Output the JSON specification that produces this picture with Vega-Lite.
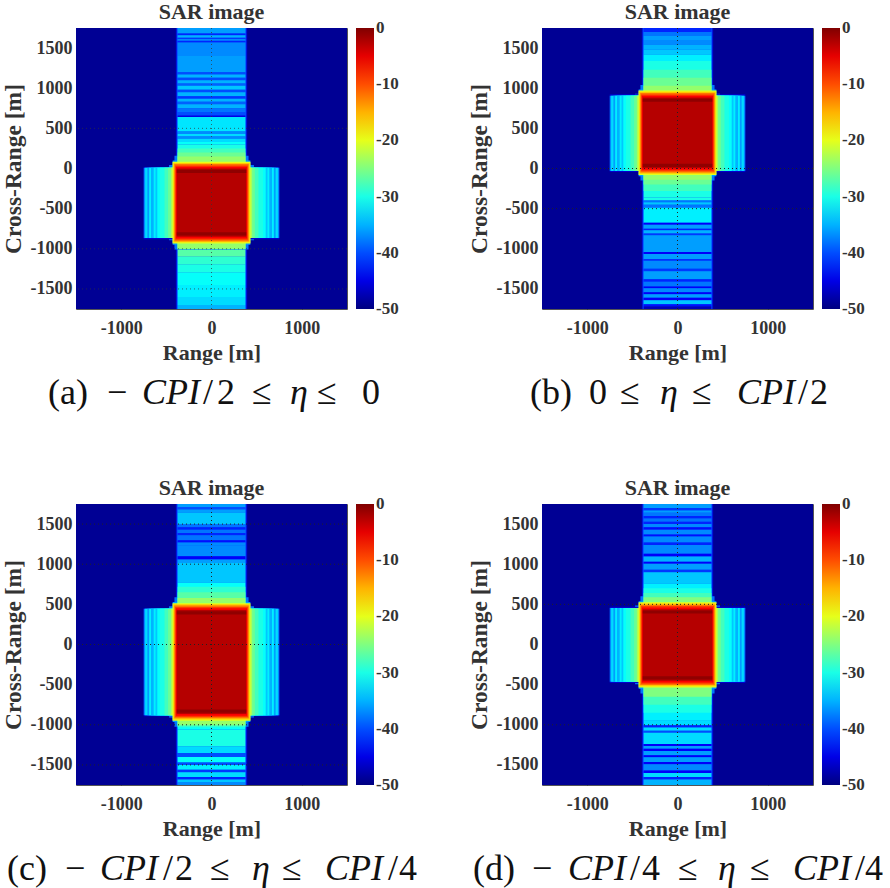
{
"$schema":"https://vega.github.io/schema/vega-lite/v6.json",
"background":"white",
"padding":0,
"bounds":"flush",
"columns":2,
"spacing":{"row":55,"column":195},
"resolve":{"scale":{"color":"independent"},"legend":{"color":"independent"}},
"config":{
"font":"Liberation Serif",
"axis":{"labelFont":"Liberation Serif","labelFontWeight":"bold","labelFontSize":18,"labelColor":"#333","titleFont":"Liberation Serif","titleFontWeight":"bold","titleColor":"#333","grid":false,"domain":false,"tickColor":"#333","tickSize":-4},
"title":{"font":"Liberation Serif","fontWeight":"bold","fontSize":22,"color":"#333","offset":4},
"view":{"stroke":"#555"},
"legend":{"labelFont":"Liberation Serif","labelFontWeight":"bold","labelFontSize":17,"labelColor":"#333","gradientStrokeColor":"#666"}
},
"concat":[
{"title":"SAR image","width":271,"height":281,"layer":[
{"data":{"values":[
{"x0":-1500,"x1":1500,"y0":-1750,"y1":1750,"v":-49},
{"x0":-395,"x1":395,"y0":-1750,"y1":1750,"v":-46},
{"x0":-385,"x1":385,"y0":-1750,"y1":1750,"v":-40},
{"x0":-375,"x1":375,"y0":1680,"y1":1750,"v":-36},
{"x0":-375,"x1":375,"y0":1660,"y1":1680,"v":-42},
{"x0":-375,"x1":375,"y0":1630,"y1":1660,"v":-35},
{"x0":-375,"x1":375,"y0":1610,"y1":1630,"v":-41},
{"x0":-375,"x1":375,"y0":1590,"y1":1610,"v":-36},
{"x0":-375,"x1":375,"y0":1570,"y1":1590,"v":-42},
{"x0":-375,"x1":375,"y0":1400,"y1":1570,"v":-37},
{"x0":-375,"x1":375,"y0":1200,"y1":1400,"v":-36},
{"x0":-375,"x1":375,"y0":1170,"y1":1200,"v":-40},
{"x0":-375,"x1":375,"y0":1130,"y1":1170,"v":-35},
{"x0":-375,"x1":375,"y0":1100,"y1":1130,"v":-40},
{"x0":-375,"x1":375,"y0":1060,"y1":1100,"v":-35},
{"x0":-375,"x1":375,"y0":1030,"y1":1060,"v":-39},
{"x0":-375,"x1":375,"y0":980,"y1":1030,"v":-34},
{"x0":-375,"x1":375,"y0":950,"y1":980,"v":-40},
{"x0":-375,"x1":375,"y0":900,"y1":950,"v":-35},
{"x0":-375,"x1":375,"y0":870,"y1":900,"v":-41},
{"x0":-375,"x1":375,"y0":830,"y1":870,"v":-35},
{"x0":-375,"x1":375,"y0":800,"y1":830,"v":-39},
{"x0":-375,"x1":375,"y0":750,"y1":800,"v":-35},
{"x0":-375,"x1":375,"y0":700,"y1":750,"v":-38},
{"x0":-375,"x1":375,"y0":660,"y1":700,"v":-40},
{"x0":-375,"x1":375,"y0":640,"y1":660,"v":-45},
{"x0":-375,"x1":375,"y0":460,"y1":640,"v":-32.5},
{"x0":-375,"x1":375,"y0":430,"y1":460,"v":-37},
{"x0":-375,"x1":375,"y0":400,"y1":430,"v":-33},
{"x0":-375,"x1":375,"y0":370,"y1":400,"v":-37},
{"x0":-375,"x1":375,"y0":330,"y1":370,"v":-33},
{"x0":-375,"x1":375,"y0":300,"y1":330,"v":-31},
{"x0":-375,"x1":375,"y0":-1100,"y1":-1000,"v":-27},
{"x0":-375,"x1":375,"y0":-1200,"y1":-1100,"v":-29},
{"x0":-375,"x1":375,"y0":-1300,"y1":-1200,"v":-30},
{"x0":-375,"x1":375,"y0":-1450,"y1":-1300,"v":-31},
{"x0":-375,"x1":375,"y0":-1600,"y1":-1450,"v":-32},
{"x0":-375,"x1":375,"y0":-1700,"y1":-1600,"v":-33},
{"x0":-375,"x1":375,"y0":-1750,"y1":-1700,"v":-35},
{"x0":-410,"x1":410,"y0":-1010,"y1":160,"v":-38},
{"x0":-430,"x1":430,"y0":-950,"y1":100,"v":-36},
{"x0":-470,"x1":470,"y0":-895,"y1":45,"v":-38},
{"x0":-750,"x1":750,"y0":-880,"y1":20,"v":-46},
{"x0":-750,"x1":750,"y0":-865,"y1":10,"v":-37},
{"x0":-735,"x1":735,"y0":-865,"y1":10,"v":-33},
{"x0":-710,"x1":710,"y0":-865,"y1":10,"v":-36},
{"x0":-690,"x1":690,"y0":-865,"y1":10,"v":-32},
{"x0":-670,"x1":670,"y0":-865,"y1":10,"v":-35},
{"x0":-640,"x1":640,"y0":-865,"y1":10,"v":-32},
{"x0":-620,"x1":620,"y0":-865,"y1":10,"v":-34},
{"x0":-600,"x1":600,"y0":-865,"y1":10,"v":-31},
{"x0":-570,"x1":570,"y0":-865,"y1":10,"v":-30},
{"x0":-520,"x1":520,"y0":-865,"y1":10,"v":-28},
{"x0":-480,"x1":480,"y0":-865,"y1":10,"v":-26},
{"x0":-450,"x1":450,"y0":-865,"y1":10,"v":-23},
{"x0":-375,"x1":375,"y0":-1000,"y1":300,"v":-30},
{"x0":-375,"x1":375,"y0":-1000,"y1":250,"v":-28},
{"x0":-375,"x1":375,"y0":-1000,"y1":200,"v":-26},
{"x0":-375,"x1":375,"y0":-1000,"y1":150,"v":-24},
{"x0":-432,"x1":432,"y0":-935,"y1":85,"v":-20},
{"x0":-422,"x1":422,"y0":-920,"y1":70,"v":-16},
{"x0":-412,"x1":412,"y0":-905,"y1":55,"v":-12},
{"x0":-402,"x1":402,"y0":-888,"y1":38,"v":-9},
{"x0":-394,"x1":394,"y0":-872,"y1":22,"v":-6},
{"x0":-385,"x1":385,"y0":-850,"y1":0,"v":-2.6},
{"x0":-385,"x1":385,"y0":-55,"y1":-15,"v":-0.8},
{"x0":-385,"x1":385,"y0":-835,"y1":-795,"v":-0.8}
]},
"mark":"rect",
"encoding":{
"x":{"field":"x0","type":"quantitative","title":"Range [m]","scale":{"domain":[-1500,1500],"nice":false},"axis":{"values":[-1000,0,1000],"labelExpr":"''+datum.value","labelPadding":14,"titleFontSize":22,"titlePadding":5}},
"x2":{"field":"x1"},
"y":{"field":"y0","type":"quantitative","title":"Cross-Range [m]","scale":{"domain":[-1750,1750],"nice":false},"axis":{"values":[-1500,-1000,-500,0,500,1000,1500],"labelExpr":"''+datum.value","labelPadding":8,"titleFontSize":23.5,"titlePadding":5}},
"y2":{"field":"y1"},
"color":{"field":"v","type":"quantitative","scale":{"domain":[-50,-43.75,-31.25,-18.75,-6.25,0],"range":["#000080","#0000ff","#00ffff","#ffff00","#ff0000","#800000"],"interpolate":"rgb"},"legend":{"title":null,"orient":"right","gradientLength":281,"gradientThickness":18,"offset":9,"values":[-49.99,-40,-30,-20,-10,-0.01],"labelExpr":"''+round(datum.value)"}}
}},
{"data":{"values":[{"g":500},{"g":-1000},{"g":-1500}]},"mark":{"type":"rule","strokeDash":[1,3],"color":"#333","opacity":0.7},"encoding":{"y":{"field":"g","type":"quantitative"}}},
{"data":{"values":[{"g":0}]},"mark":{"type":"rule","strokeDash":[1,3],"color":"#333","opacity":0.7},"encoding":{"x":{"field":"g","type":"quantitative"}}}
]},
{"title":"SAR image","width":271,"height":281,"layer":[
{"data":{"values":[
{"x0":-1500,"x1":1500,"y0":-1750,"y1":1750,"v":-49},
{"x0":-395,"x1":395,"y0":-1750,"y1":1750,"v":-46},
{"x0":-385,"x1":385,"y0":-1750,"y1":1750,"v":-40},
{"x0":-375,"x1":375,"y0":1700,"y1":1750,"v":-42},
{"x0":-375,"x1":375,"y0":1650,"y1":1700,"v":-38},
{"x0":-375,"x1":375,"y0":1600,"y1":1650,"v":-36},
{"x0":-375,"x1":375,"y0":1540,"y1":1600,"v":-37},
{"x0":-375,"x1":375,"y0":1480,"y1":1540,"v":-35},
{"x0":-375,"x1":375,"y0":1420,"y1":1480,"v":-34},
{"x0":-375,"x1":375,"y0":1340,"y1":1420,"v":-32},
{"x0":-375,"x1":375,"y0":-400,"y1":-360,"v":-30},
{"x0":-375,"x1":375,"y0":-420,"y1":-400,"v":-38},
{"x0":-375,"x1":375,"y0":-450,"y1":-420,"v":-34},
{"x0":-375,"x1":375,"y0":-490,"y1":-450,"v":-38},
{"x0":-375,"x1":375,"y0":-675,"y1":-490,"v":-32},
{"x0":-375,"x1":375,"y0":-700,"y1":-675,"v":-44},
{"x0":-375,"x1":375,"y0":-750,"y1":-700,"v":-36},
{"x0":-375,"x1":375,"y0":-770,"y1":-750,"v":-42},
{"x0":-375,"x1":375,"y0":-810,"y1":-770,"v":-35},
{"x0":-375,"x1":375,"y0":-830,"y1":-810,"v":-41},
{"x0":-375,"x1":375,"y0":-1040,"y1":-830,"v":-36},
{"x0":-375,"x1":375,"y0":-1065,"y1":-1040,"v":-44},
{"x0":-375,"x1":375,"y0":-1130,"y1":-1065,"v":-36},
{"x0":-375,"x1":375,"y0":-1150,"y1":-1130,"v":-42},
{"x0":-375,"x1":375,"y0":-1250,"y1":-1150,"v":-37},
{"x0":-375,"x1":375,"y0":-1280,"y1":-1250,"v":-41},
{"x0":-375,"x1":375,"y0":-1380,"y1":-1280,"v":-36},
{"x0":-375,"x1":375,"y0":-1410,"y1":-1380,"v":-42},
{"x0":-375,"x1":375,"y0":-1470,"y1":-1410,"v":-38},
{"x0":-375,"x1":375,"y0":-1490,"y1":-1470,"v":-44},
{"x0":-375,"x1":375,"y0":-1540,"y1":-1490,"v":-37},
{"x0":-375,"x1":375,"y0":-1565,"y1":-1540,"v":-44},
{"x0":-375,"x1":375,"y0":-1610,"y1":-1565,"v":-36},
{"x0":-375,"x1":375,"y0":-1640,"y1":-1610,"v":-44},
{"x0":-375,"x1":375,"y0":-1690,"y1":-1640,"v":-34},
{"x0":-375,"x1":375,"y0":-1715,"y1":-1690,"v":-43},
{"x0":-375,"x1":375,"y0":-1750,"y1":-1715,"v":-47},
{"x0":-410,"x1":410,"y0":-150,"y1":1040,"v":-38},
{"x0":-430,"x1":430,"y0":-95,"y1":985,"v":-36},
{"x0":-470,"x1":470,"y0":-40,"y1":930,"v":-38},
{"x0":-750,"x1":750,"y0":-45,"y1":925,"v":-46},
{"x0":-750,"x1":750,"y0":-30,"y1":905,"v":-37},
{"x0":-735,"x1":735,"y0":-30,"y1":905,"v":-33},
{"x0":-710,"x1":710,"y0":-30,"y1":905,"v":-36},
{"x0":-690,"x1":690,"y0":-30,"y1":905,"v":-32},
{"x0":-670,"x1":670,"y0":-30,"y1":905,"v":-35},
{"x0":-640,"x1":640,"y0":-30,"y1":905,"v":-32},
{"x0":-620,"x1":620,"y0":-30,"y1":905,"v":-34},
{"x0":-600,"x1":600,"y0":-30,"y1":905,"v":-31},
{"x0":-570,"x1":570,"y0":-30,"y1":905,"v":-30},
{"x0":-520,"x1":520,"y0":-30,"y1":905,"v":-28},
{"x0":-480,"x1":480,"y0":-30,"y1":905,"v":-26},
{"x0":-450,"x1":450,"y0":-30,"y1":905,"v":-23},
{"x0":-375,"x1":375,"y0":-360,"y1":1340,"v":-30},
{"x0":-375,"x1":375,"y0":-280,"y1":1230,"v":-28},
{"x0":-375,"x1":375,"y0":-200,"y1":1130,"v":-26},
{"x0":-375,"x1":375,"y0":-140,"y1":1030,"v":-24},
{"x0":-432,"x1":432,"y0":-80,"y1":970,"v":-20},
{"x0":-422,"x1":422,"y0":-65,"y1":955,"v":-16},
{"x0":-412,"x1":412,"y0":-50,"y1":940,"v":-12},
{"x0":-402,"x1":402,"y0":-33,"y1":923,"v":-9},
{"x0":-394,"x1":394,"y0":-17,"y1":907,"v":-6},
{"x0":-385,"x1":385,"y0":5,"y1":885,"v":-2.6},
{"x0":-385,"x1":385,"y0":830,"y1":870,"v":-0.8},
{"x0":-385,"x1":385,"y0":20,"y1":60,"v":-0.8}
]},
"mark":"rect",
"encoding":{
"x":{"field":"x0","type":"quantitative","title":"Range [m]","scale":{"domain":[-1500,1500],"nice":false},"axis":{"values":[-1000,0,1000],"labelExpr":"''+datum.value","labelPadding":14,"titleFontSize":22,"titlePadding":5}},
"x2":{"field":"x1"},
"y":{"field":"y0","type":"quantitative","title":"Cross-Range [m]","scale":{"domain":[-1750,1750],"nice":false},"axis":{"values":[-1500,-1000,-500,0,500,1000,1500],"labelExpr":"''+datum.value","labelPadding":8,"titleFontSize":23.5,"titlePadding":5}},
"y2":{"field":"y1"},
"color":{"field":"v","type":"quantitative","scale":{"domain":[-50,-43.75,-31.25,-18.75,-6.25,0],"range":["#000080","#0000ff","#00ffff","#ffff00","#ff0000","#800000"],"interpolate":"rgb"},"legend":{"title":null,"orient":"right","gradientLength":281,"gradientThickness":18,"offset":9,"values":[-49.99,-40,-30,-20,-10,-0.01],"labelExpr":"''+round(datum.value)"}}
}},
{"data":{"values":[{"g":0},{"g":-500}]},"mark":{"type":"rule","strokeDash":[1,3],"color":"#222"},"encoding":{"y":{"field":"g","type":"quantitative"}}},
{"data":{"values":[{"g":0}]},"mark":{"type":"rule","strokeDash":[1,3],"color":"#222"},"encoding":{"x":{"field":"g","type":"quantitative"}}}
]},
{"width":271,"height":85,"view":{"stroke":null},"layer":[
{"data":{"values":[{"x":-28,"t":"(a)"},{"x":31,"t":"−"},{"x":127,"t":"/"},{"x":141,"t":"2"},{"x":176,"t":"≤"},{"x":241,"t":"≤"},{"x":286,"t":"0"}]},"mark":{"type":"text","align":"left","baseline":"middle","font":"Liberation Serif","fontSize":36,"color":"#111"},"encoding":{"x":{"field":"x","type":"quantitative","axis":null,"scale":{"domain":[0,271]}},"y":{"datum":29,"type":"quantitative","axis":null,"scale":{"domain":[85,0]}},"text":{"field":"t"}}},
{"data":{"values":[{"x":66,"t":"CPI"},{"x":214,"t":"η"}]},"mark":{"type":"text","align":"left","baseline":"middle","font":"Liberation Serif","fontStyle":"italic","fontSize":36,"color":"#111"},"encoding":{"x":{"field":"x","type":"quantitative","axis":null,"scale":{"domain":[0,271]}},"y":{"datum":29,"type":"quantitative","axis":null,"scale":{"domain":[85,0]}},"text":{"field":"t"}}}
]},
{"width":271,"height":85,"view":{"stroke":null},"layer":[
{"data":{"values":[{"x":-12,"t":"(b)"},{"x":47,"t":"0"},{"x":78,"t":"≤"},{"x":150,"t":"≤"},{"x":256,"t":"/"},{"x":268,"t":"2"}]},"mark":{"type":"text","align":"left","baseline":"middle","font":"Liberation Serif","fontSize":36,"color":"#111"},"encoding":{"x":{"field":"x","type":"quantitative","axis":null,"scale":{"domain":[0,271]}},"y":{"datum":29,"type":"quantitative","axis":null,"scale":{"domain":[85,0]}},"text":{"field":"t"}}},
{"data":{"values":[{"x":118,"t":"η"},{"x":195,"t":"CPI"}]},"mark":{"type":"text","align":"left","baseline":"middle","font":"Liberation Serif","fontStyle":"italic","fontSize":36,"color":"#111"},"encoding":{"x":{"field":"x","type":"quantitative","axis":null,"scale":{"domain":[0,271]}},"y":{"datum":29,"type":"quantitative","axis":null,"scale":{"domain":[85,0]}},"text":{"field":"t"}}}
]},
{"title":"SAR image","width":271,"height":281,"layer":[
{"data":{"values":[
{"x0":-1500,"x1":1500,"y0":-1750,"y1":1750,"v":-49},
{"x0":-395,"x1":395,"y0":-1750,"y1":1750,"v":-46},
{"x0":-385,"x1":385,"y0":-1750,"y1":1750,"v":-40},
{"x0":-375,"x1":375,"y0":1710,"y1":1750,"v":-36},
{"x0":-375,"x1":375,"y0":1680,"y1":1710,"v":-40},
{"x0":-375,"x1":375,"y0":1640,"y1":1680,"v":-36},
{"x0":-375,"x1":375,"y0":1500,"y1":1640,"v":-34},
{"x0":-375,"x1":375,"y0":1460,"y1":1500,"v":-38},
{"x0":-375,"x1":375,"y0":1430,"y1":1460,"v":-42},
{"x0":-375,"x1":375,"y0":1390,"y1":1430,"v":-38},
{"x0":-375,"x1":375,"y0":1360,"y1":1390,"v":-42},
{"x0":-375,"x1":375,"y0":1300,"y1":1360,"v":-38},
{"x0":-375,"x1":375,"y0":1270,"y1":1300,"v":-43},
{"x0":-375,"x1":375,"y0":1230,"y1":1270,"v":-37},
{"x0":-375,"x1":375,"y0":1100,"y1":1230,"v":-37},
{"x0":-375,"x1":375,"y0":1060,"y1":1100,"v":-44},
{"x0":-375,"x1":375,"y0":1020,"y1":1060,"v":-36},
{"x0":-375,"x1":375,"y0":770,"y1":1020,"v":-34},
{"x0":-375,"x1":375,"y0":-1270,"y1":-1060,"v":-30},
{"x0":-375,"x1":375,"y0":-1350,"y1":-1270,"v":-33},
{"x0":-375,"x1":375,"y0":-1400,"y1":-1350,"v":-40},
{"x0":-375,"x1":375,"y0":-1470,"y1":-1400,"v":-31},
{"x0":-375,"x1":375,"y0":-1500,"y1":-1470,"v":-40},
{"x0":-375,"x1":375,"y0":-1560,"y1":-1500,"v":-32},
{"x0":-375,"x1":375,"y0":-1590,"y1":-1560,"v":-41},
{"x0":-375,"x1":375,"y0":-1650,"y1":-1590,"v":-33},
{"x0":-375,"x1":375,"y0":-1680,"y1":-1650,"v":-42},
{"x0":-375,"x1":375,"y0":-1720,"y1":-1680,"v":-34},
{"x0":-375,"x1":375,"y0":-1750,"y1":-1720,"v":-37},
{"x0":-410,"x1":410,"y0":-1025,"y1":590,"v":-38},
{"x0":-430,"x1":430,"y0":-965,"y1":530,"v":-36},
{"x0":-470,"x1":470,"y0":-910,"y1":475,"v":-38},
{"x0":-750,"x1":750,"y0":-895,"y1":450,"v":-46},
{"x0":-750,"x1":750,"y0":-880,"y1":445,"v":-37},
{"x0":-735,"x1":735,"y0":-880,"y1":445,"v":-33},
{"x0":-710,"x1":710,"y0":-880,"y1":445,"v":-36},
{"x0":-690,"x1":690,"y0":-880,"y1":445,"v":-32},
{"x0":-670,"x1":670,"y0":-880,"y1":445,"v":-35},
{"x0":-640,"x1":640,"y0":-880,"y1":445,"v":-32},
{"x0":-620,"x1":620,"y0":-880,"y1":445,"v":-34},
{"x0":-600,"x1":600,"y0":-880,"y1":445,"v":-31},
{"x0":-570,"x1":570,"y0":-880,"y1":445,"v":-30},
{"x0":-520,"x1":520,"y0":-880,"y1":445,"v":-28},
{"x0":-480,"x1":480,"y0":-880,"y1":445,"v":-26},
{"x0":-450,"x1":450,"y0":-880,"y1":445,"v":-23},
{"x0":-375,"x1":375,"y0":-1060,"y1":770,"v":-31},
{"x0":-375,"x1":375,"y0":-1030,"y1":720,"v":-29},
{"x0":-375,"x1":375,"y0":-1015,"y1":650,"v":-27},
{"x0":-375,"x1":375,"y0":-1000,"y1":580,"v":-24},
{"x0":-432,"x1":432,"y0":-950,"y1":515,"v":-20},
{"x0":-422,"x1":422,"y0":-935,"y1":500,"v":-16},
{"x0":-412,"x1":412,"y0":-920,"y1":485,"v":-12},
{"x0":-402,"x1":402,"y0":-903,"y1":468,"v":-9},
{"x0":-394,"x1":394,"y0":-887,"y1":452,"v":-6},
{"x0":-385,"x1":385,"y0":-865,"y1":430,"v":-2.6},
{"x0":-385,"x1":385,"y0":375,"y1":415,"v":-0.8},
{"x0":-385,"x1":385,"y0":-850,"y1":-810,"v":-0.8}
]},
"mark":"rect",
"encoding":{
"x":{"field":"x0","type":"quantitative","title":"Range [m]","scale":{"domain":[-1500,1500],"nice":false},"axis":{"values":[-1000,0,1000],"labelExpr":"''+datum.value","labelPadding":14,"titleFontSize":22,"titlePadding":5}},
"x2":{"field":"x1"},
"y":{"field":"y0","type":"quantitative","title":"Cross-Range [m]","scale":{"domain":[-1750,1750],"nice":false},"axis":{"values":[-1500,-1000,-500,0,500,1000,1500],"labelExpr":"''+datum.value","labelPadding":8,"titleFontSize":23.5,"titlePadding":5}},
"y2":{"field":"y1"},
"color":{"field":"v","type":"quantitative","scale":{"domain":[-50,-43.75,-31.25,-18.75,-6.25,0],"range":["#000080","#0000ff","#00ffff","#ffff00","#ff0000","#800000"],"interpolate":"rgb"},"legend":{"title":null,"orient":"right","gradientLength":281,"gradientThickness":18,"offset":9,"values":[-49.99,-40,-30,-20,-10,-0.01],"labelExpr":"''+round(datum.value)"}}
}},
{"data":{"values":[{"g":1500},{"g":1000},{"g":0},{"g":-1000},{"g":-1500}]},"mark":{"type":"rule","strokeDash":[1,3],"color":"#222"},"encoding":{"y":{"field":"g","type":"quantitative"}}},
{"data":{"values":[{"g":0}]},"mark":{"type":"rule","strokeDash":[1,3],"color":"#222"},"encoding":{"x":{"field":"g","type":"quantitative"}}}
]},
{"title":"SAR image","width":271,"height":281,"layer":[
{"data":{"values":[
{"x0":-1500,"x1":1500,"y0":-1750,"y1":1750,"v":-49},
{"x0":-395,"x1":395,"y0":-1750,"y1":1750,"v":-46},
{"x0":-385,"x1":385,"y0":-1750,"y1":1750,"v":-40},
{"x0":-375,"x1":375,"y0":1700,"y1":1750,"v":-36},
{"x0":-375,"x1":375,"y0":1670,"y1":1700,"v":-41},
{"x0":-375,"x1":375,"y0":1640,"y1":1670,"v":-36},
{"x0":-375,"x1":375,"y0":1600,"y1":1640,"v":-38},
{"x0":-375,"x1":375,"y0":1570,"y1":1600,"v":-42},
{"x0":-375,"x1":375,"y0":1530,"y1":1570,"v":-38},
{"x0":-375,"x1":375,"y0":1500,"y1":1530,"v":-42},
{"x0":-375,"x1":375,"y0":1460,"y1":1500,"v":-37},
{"x0":-375,"x1":375,"y0":1430,"y1":1460,"v":-43},
{"x0":-375,"x1":375,"y0":1370,"y1":1430,"v":-37},
{"x0":-375,"x1":375,"y0":1345,"y1":1370,"v":-43},
{"x0":-375,"x1":375,"y0":1270,"y1":1345,"v":-37},
{"x0":-375,"x1":375,"y0":1240,"y1":1270,"v":-42},
{"x0":-375,"x1":375,"y0":1130,"y1":1240,"v":-37},
{"x0":-375,"x1":375,"y0":1095,"y1":1130,"v":-44},
{"x0":-375,"x1":375,"y0":1030,"y1":1095,"v":-35},
{"x0":-375,"x1":375,"y0":1005,"y1":1030,"v":-44},
{"x0":-375,"x1":375,"y0":930,"y1":1005,"v":-36},
{"x0":-375,"x1":375,"y0":900,"y1":930,"v":-41},
{"x0":-375,"x1":375,"y0":760,"y1":900,"v":-34},
{"x0":-375,"x1":375,"y0":-1005,"y1":-950,"v":-33},
{"x0":-375,"x1":375,"y0":-1035,"y1":-1005,"v":-42},
{"x0":-375,"x1":375,"y0":-1075,"y1":-1035,"v":-33},
{"x0":-375,"x1":375,"y0":-1100,"y1":-1075,"v":-40},
{"x0":-375,"x1":375,"y0":-1240,"y1":-1100,"v":-33},
{"x0":-375,"x1":375,"y0":-1265,"y1":-1240,"v":-44},
{"x0":-375,"x1":375,"y0":-1300,"y1":-1265,"v":-36},
{"x0":-375,"x1":375,"y0":-1325,"y1":-1300,"v":-44},
{"x0":-375,"x1":375,"y0":-1380,"y1":-1325,"v":-36},
{"x0":-375,"x1":375,"y0":-1405,"y1":-1380,"v":-44},
{"x0":-375,"x1":375,"y0":-1465,"y1":-1405,"v":-36},
{"x0":-375,"x1":375,"y0":-1490,"y1":-1465,"v":-44},
{"x0":-375,"x1":375,"y0":-1570,"y1":-1490,"v":-37},
{"x0":-375,"x1":375,"y0":-1600,"y1":-1570,"v":-44},
{"x0":-375,"x1":375,"y0":-1650,"y1":-1600,"v":-33},
{"x0":-375,"x1":375,"y0":-1680,"y1":-1650,"v":-42},
{"x0":-375,"x1":375,"y0":-1750,"y1":-1680,"v":-35},
{"x0":-410,"x1":410,"y0":-610,"y1":600,"v":-38},
{"x0":-430,"x1":430,"y0":-550,"y1":540,"v":-36},
{"x0":-470,"x1":470,"y0":-495,"y1":485,"v":-38},
{"x0":-750,"x1":750,"y0":-480,"y1":470,"v":-46},
{"x0":-750,"x1":750,"y0":-465,"y1":455,"v":-37},
{"x0":-735,"x1":735,"y0":-465,"y1":455,"v":-33},
{"x0":-710,"x1":710,"y0":-465,"y1":455,"v":-36},
{"x0":-690,"x1":690,"y0":-465,"y1":455,"v":-32},
{"x0":-670,"x1":670,"y0":-465,"y1":455,"v":-35},
{"x0":-640,"x1":640,"y0":-465,"y1":455,"v":-32},
{"x0":-620,"x1":620,"y0":-465,"y1":455,"v":-34},
{"x0":-600,"x1":600,"y0":-465,"y1":455,"v":-31},
{"x0":-570,"x1":570,"y0":-465,"y1":455,"v":-30},
{"x0":-520,"x1":520,"y0":-465,"y1":455,"v":-28},
{"x0":-480,"x1":480,"y0":-465,"y1":455,"v":-26},
{"x0":-450,"x1":450,"y0":-465,"y1":455,"v":-23},
{"x0":-375,"x1":375,"y0":-950,"y1":760,"v":-32},
{"x0":-375,"x1":375,"y0":-850,"y1":700,"v":-30},
{"x0":-375,"x1":375,"y0":-750,"y1":640,"v":-28},
{"x0":-375,"x1":375,"y0":-650,"y1":590,"v":-25},
{"x0":-432,"x1":432,"y0":-535,"y1":525,"v":-20},
{"x0":-422,"x1":422,"y0":-520,"y1":510,"v":-16},
{"x0":-412,"x1":412,"y0":-505,"y1":495,"v":-12},
{"x0":-402,"x1":402,"y0":-488,"y1":478,"v":-9},
{"x0":-394,"x1":394,"y0":-472,"y1":462,"v":-6},
{"x0":-385,"x1":385,"y0":-450,"y1":440,"v":-2.6},
{"x0":-385,"x1":385,"y0":385,"y1":425,"v":-0.8},
{"x0":-385,"x1":385,"y0":-435,"y1":-395,"v":-0.8}
]},
"mark":"rect",
"encoding":{
"x":{"field":"x0","type":"quantitative","title":"Range [m]","scale":{"domain":[-1500,1500],"nice":false},"axis":{"values":[-1000,0,1000],"labelExpr":"''+datum.value","labelPadding":14,"titleFontSize":22,"titlePadding":5}},
"x2":{"field":"x1"},
"y":{"field":"y0","type":"quantitative","title":"Cross-Range [m]","scale":{"domain":[-1750,1750],"nice":false},"axis":{"values":[-1500,-1000,-500,0,500,1000,1500],"labelExpr":"''+datum.value","labelPadding":8,"titleFontSize":23.5,"titlePadding":5}},
"y2":{"field":"y1"},
"color":{"field":"v","type":"quantitative","scale":{"domain":[-50,-43.75,-31.25,-18.75,-6.25,0],"range":["#000080","#0000ff","#00ffff","#ffff00","#ff0000","#800000"],"interpolate":"rgb"},"legend":{"title":null,"orient":"right","gradientLength":281,"gradientThickness":18,"offset":9,"values":[-49.99,-40,-30,-20,-10,-0.01],"labelExpr":"''+round(datum.value)"}}
}},
{"data":{"values":[{"g":500},{"g":-1000}]},"mark":{"type":"rule","strokeDash":[1,3],"color":"#222"},"encoding":{"y":{"field":"g","type":"quantitative"}}},
{"data":{"values":[{"g":0}]},"mark":{"type":"rule","strokeDash":[1,3],"color":"#222"},"encoding":{"x":{"field":"g","type":"quantitative"}}}
]},
{"width":271,"height":85,"view":{"stroke":null},"layer":[
{"data":{"values":[{"x":-69,"t":"(c)"},{"x":-11,"t":"−"},{"x":87,"t":"/"},{"x":99,"t":"2"},{"x":134,"t":"≤"},{"x":206,"t":"≤"},{"x":312,"t":"/"},{"x":323,"t":"4"}]},"mark":{"type":"text","align":"left","baseline":"middle","font":"Liberation Serif","fontSize":36,"color":"#111"},"encoding":{"x":{"field":"x","type":"quantitative","axis":null,"scale":{"domain":[0,271]}},"y":{"datum":29,"type":"quantitative","axis":null,"scale":{"domain":[85,0]}},"text":{"field":"t"}}},
{"data":{"values":[{"x":24,"t":"CPI"},{"x":176,"t":"η"},{"x":249,"t":"CPI"}]},"mark":{"type":"text","align":"left","baseline":"middle","font":"Liberation Serif","fontStyle":"italic","fontSize":36,"color":"#111"},"encoding":{"x":{"field":"x","type":"quantitative","axis":null,"scale":{"domain":[0,271]}},"y":{"datum":29,"type":"quantitative","axis":null,"scale":{"domain":[85,0]}},"text":{"field":"t"}}}
]},
{"width":271,"height":85,"view":{"stroke":null},"layer":[
{"data":{"values":[{"x":-69,"t":"(d)"},{"x":-10,"t":"−"},{"x":88,"t":"/"},{"x":100,"t":"4"},{"x":136,"t":"≤"},{"x":208,"t":"≤"},{"x":313,"t":"/"},{"x":323,"t":"4"}]},"mark":{"type":"text","align":"left","baseline":"middle","font":"Liberation Serif","fontSize":36,"color":"#111"},"encoding":{"x":{"field":"x","type":"quantitative","axis":null,"scale":{"domain":[0,271]}},"y":{"datum":29,"type":"quantitative","axis":null,"scale":{"domain":[85,0]}},"text":{"field":"t"}}},
{"data":{"values":[{"x":26,"t":"CPI"},{"x":176,"t":"η"},{"x":251,"t":"CPI"}]},"mark":{"type":"text","align":"left","baseline":"middle","font":"Liberation Serif","fontStyle":"italic","fontSize":36,"color":"#111"},"encoding":{"x":{"field":"x","type":"quantitative","axis":null,"scale":{"domain":[0,271]}},"y":{"datum":29,"type":"quantitative","axis":null,"scale":{"domain":[85,0]}},"text":{"field":"t"}}}
]}
]
}
